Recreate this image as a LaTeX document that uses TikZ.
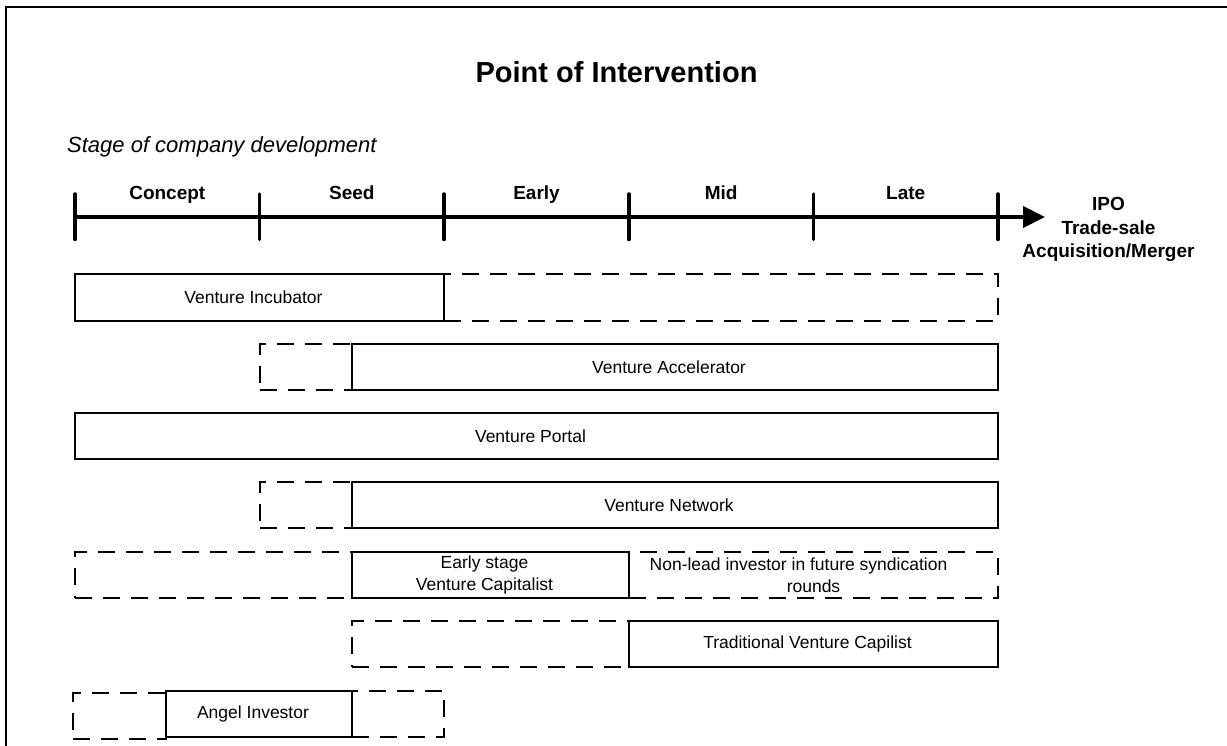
\documentclass[tikz,border=0pt]{standalone}
\usepackage{fontspec}
\setmainfont{Liberation Sans}
\usepackage{tikz}
\usetikzlibrary{arrows.meta}

\tikzset{
	solidbox/.style={draw, line width=1.4pt, inner sep=0pt},
	dashbox/.style={solidbox, dash pattern=on 17pt off 11pt},
	boxtext/.style={xshift=-6pt, inner sep=0pt, align=center, font=\fontsize{17.5}{22.5}\selectfont},
	stagelabel/.style={anchor=base, inner sep=0pt, font=\fontsize{19}{23}\selectfont\bfseries},
	tick/.style={line width=3.5pt, line cap=round}
}

\begin{document}
\begin{tikzpicture}[x=1pt,y=-1pt]
	\useasboundingbox (0,0) rectangle (1227,746);
	\draw[line width=2pt] (1240,7.5) -- (5.5,7.5) -- (5.5,760);
	
	\node[anchor=base, inner sep=0pt, font=\fontsize{29}{34}\selectfont\bfseries] (title) at (616.5,83) {Point of Intervention};
	\node[anchor=base west, inner sep=0pt, font=\fontsize{22}{26}\selectfont\itshape] (stage) at (67,153) {Stage of company development};
	
	% time axis
	\coordinate (start) at (75,217);
	\coordinate (exit) at (1045,217);
	\draw[line width=4pt, -{Triangle[length=22pt,width=21pt]}] (start) -- (exit);
	\foreach \i in {0,1,2,3,4,5}
	\draw[tick] ({75+184.6*\i},194) -- ({75+184.6*\i},239.5);
	\foreach \name [count=\i from 0] in {Concept,Seed,Early,Mid,Late}
	\node[stagelabel] (\name) at ({167.3+184.6*\i},200) {\name};
	\node[inner sep=0pt, align=center, font=\fontsize{19}{23.5}\selectfont\bfseries] (exitlabel) at (1108.5,229.6) {IPO\\Trade-sale\\Acquisition/Merger};
	
	% dashed parts first
	\node[dashbox, minimum width=554pt, minimum height=47pt] (incubatorext) at (721,297.5) {};
	\node[dashbox, minimum width=92pt, minimum height=46pt] (acceleratorpre) at (306,367) {};
	\node[dashbox, minimum width=92pt, minimum height=46pt] (networkpre) at (306,505) {};
	\node[dashbox, minimum width=277pt, minimum height=46pt] (vcpre) at (213.5,575) {};
	\node[dashbox, minimum width=369pt, minimum height=46pt,
		label={[boxtext, xshift=6pt]center:Non-lead investor in future syndication\hspace*{30pt}\\rounds}] (nonlead) at (813.5,575) {};
	\node[dashbox, minimum width=277pt, minimum height=46pt] (tradpre) at (490.5,644) {};
	\node[dashbox, minimum width=93pt, minimum height=46pt] (angelpre) at (119.5,716) {};
	\node[dashbox, minimum width=92pt, minimum height=46pt] (angelpost) at (398,714) {};
	
	% solid parts
	\node[solidbox, minimum width=369pt, minimum height=47pt, label={[boxtext]center:Venture Incubator}] (incubator) at (259.5,297.5) {};
	\node[solidbox, minimum width=646pt, minimum height=46pt, label={[boxtext]center:Venture Accelerator}] (accelerator) at (675,367) {};
	\node[solidbox, minimum width=923pt, minimum height=46pt, label={[boxtext]center:Venture Portal}] (portal) at (536.5,436) {};
	\node[solidbox, minimum width=646pt, minimum height=46pt, label={[boxtext]center:Venture Network}] (network) at (675,505) {};
	\node[solidbox, minimum width=277pt, minimum height=46pt, label={[boxtext]center:Early stage\\Venture Capitalist}] (earlyvc) at (490.5,575) {};
	\node[solidbox, minimum width=369pt, minimum height=46pt, label={[boxtext]center:Traditional Venture Capilist}] (tradvc) at (813.5,644) {};
	\node[solidbox, minimum width=186pt, minimum height=46pt, label={[boxtext]center:Angel Investor}] (angel) at (259,714) {};
	
\end{tikzpicture}
\end{document}
